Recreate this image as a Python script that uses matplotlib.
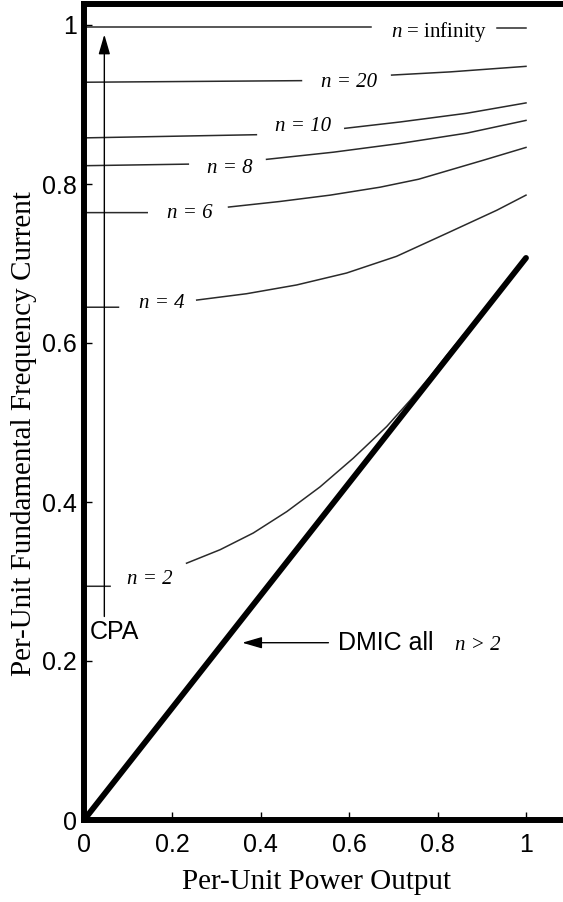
import numpy as np
import matplotlib
matplotlib.use("Agg")
import matplotlib.pyplot as plt

plt.rcParams["mathtext.fontset"] = "custom"
plt.rcParams["mathtext.it"] = "Liberation Serif:italic"
plt.rcParams["mathtext.rm"] = "Liberation Serif"

SERIF = "Liberation Serif"
SANS = "Liberation Sans"

nan = np.nan

# harmonic curves (nan = gap left for the label)
n_inf_x = [0.0, 0.65, nan, 0.935, 1.0]
n_inf_y = [0.997, 0.997, nan, 0.996, 0.996]

n20_x = [0.0, 0.492, nan, 0.696, 0.828, 1.0]
n20_y = [0.928, 0.930, nan, 0.937, 0.941, 0.948]

n10_x = [0.0, 0.39, nan, 0.590, 0.715, 0.866, 1.0]
n10_y = [0.858, 0.862, nan, 0.870, 0.878, 0.889, 0.902]

n8_x = [0.0, 0.236, nan, 0.413, 0.564, 0.715, 0.866, 1.0]
n8_y = [0.823, 0.825, nan, 0.831, 0.840, 0.851, 0.864, 0.880]

n6_x = [0.0, 0.143, nan, 0.327, 0.443, 0.557, 0.670, 0.757, 0.904, 1.0]
n6_y = [0.764, 0.764, nan, 0.771, 0.778, 0.786, 0.796, 0.806, 0.830, 0.846]

n4_x = [0.0, 0.078, nan, 0.255, 0.368, 0.481, 0.594, 0.707, 0.821, 0.934, 1.0]
n4_y = [0.645, 0.645, nan, 0.654, 0.662, 0.673, 0.688, 0.709, 0.738, 0.767, 0.786]

n2_x = [0.0, 0.059, nan, 0.232, 0.308, 0.383, 0.459, 0.534, 0.609, 0.685,
        0.738, 0.783, 0.821, 0.858]
n2_y = [0.294, 0.294, nan, 0.323, 0.340, 0.361, 0.388, 0.419, 0.455, 0.495,
        0.528, 0.558, 0.585, 0.610]

dmic_x = [0.0, 1.0]
dmic_y = [0.0, 0.707]

ticks = [0, 0.2, 0.4, 0.6, 0.8, 1]
tick_labels = ["0", "0.2", "0.4", "0.6", "0.8", "1"]

fig = plt.figure(figsize=(5.63, 9.02), dpi=100)
ax = fig.add_axes([84 / 563, 82 / 902, 516 / 563, 816 / 902])
ax.set_xlim(0, 516 / 442)
ax.set_ylim(0, 816 / 795)

for xs, ys in [(n_inf_x, n_inf_y), (n20_x, n20_y), (n10_x, n10_y), (n8_x, n8_y),
               (n6_x, n6_y), (n4_x, n4_y), (n2_x, n2_y)]:
    ax.plot(xs, ys, color="#2a2a2a", lw=1.1)

ax.plot(dmic_x, dmic_y, color="black", lw=4.2, solid_capstyle="round")

# curve labels
lab = dict(fontsize=15, family=SERIF, ha="center", va="center")
ax.text(0.803, 0.991, "$n$ = infinity", **lab)
ax.text(0.600, 0.928, "n = 20", style="italic", **lab)
ax.text(0.496, 0.872, "n = 10", style="italic", **lab)
ax.text(0.330, 0.820, "n = 8", style="italic", **lab)
ax.text(0.240, 0.763, "n = 6", style="italic", **lab)
ax.text(0.175, 0.650, "n = 4", style="italic", **lab)
ax.text(0.149, 0.302, "n = 2", style="italic", **lab)
ax.text(0.891, 0.219, "n > 2", style="italic", **lab)

# CPA arrow
ax.annotate("", xy=(0.046, 0.988), xytext=(0.046, 0.256),
            arrowprops=dict(arrowstyle="-|>,head_length=1.2,head_width=0.35",
                            color="black", lw=1.0, shrinkA=0, shrinkB=0))
ax.text(0.013, 0.237, "CPA", fontsize=18, family=SANS, ha="left", va="center")

# DMIC arrow
ax.annotate("", xy=(0.358, 0.223), xytext=(0.553, 0.223),
            arrowprops=dict(arrowstyle="-|>,head_length=1.2,head_width=0.35",
                            color="black", lw=1.0, shrinkA=0, shrinkB=0))
ax.text(0.574, 0.223, "DMIC all", fontsize=18, family=SANS, ha="left", va="center")

ax.set_xticks(ticks)
ax.set_xticklabels(tick_labels)
ax.set_yticks(ticks)
ax.set_yticklabels(tick_labels)
ax.tick_params(direction="in", length=6, width=1, labelsize=18, pad=5)
ax.tick_params(axis="x", pad=9)
for t in ax.get_xticklabels() + ax.get_yticklabels():
    t.set_family(SANS)

for side in ["left", "bottom", "top"]:
    ax.spines[side].set_linewidth(4.3)
ax.spines["right"].set_visible(False)

fig.text(317 / 563, 1 - 882 / 902, "Per-Unit Power Output", fontsize=21,
         family=SERIF, ha="center", va="center")
fig.text(24 / 563, 1 - 434 / 902, "Per-Unit Fundamental Frequency Current",
         fontsize=21, family=SERIF, ha="center", va="center", rotation=90)

fig.savefig("out.png", dpi=100)
